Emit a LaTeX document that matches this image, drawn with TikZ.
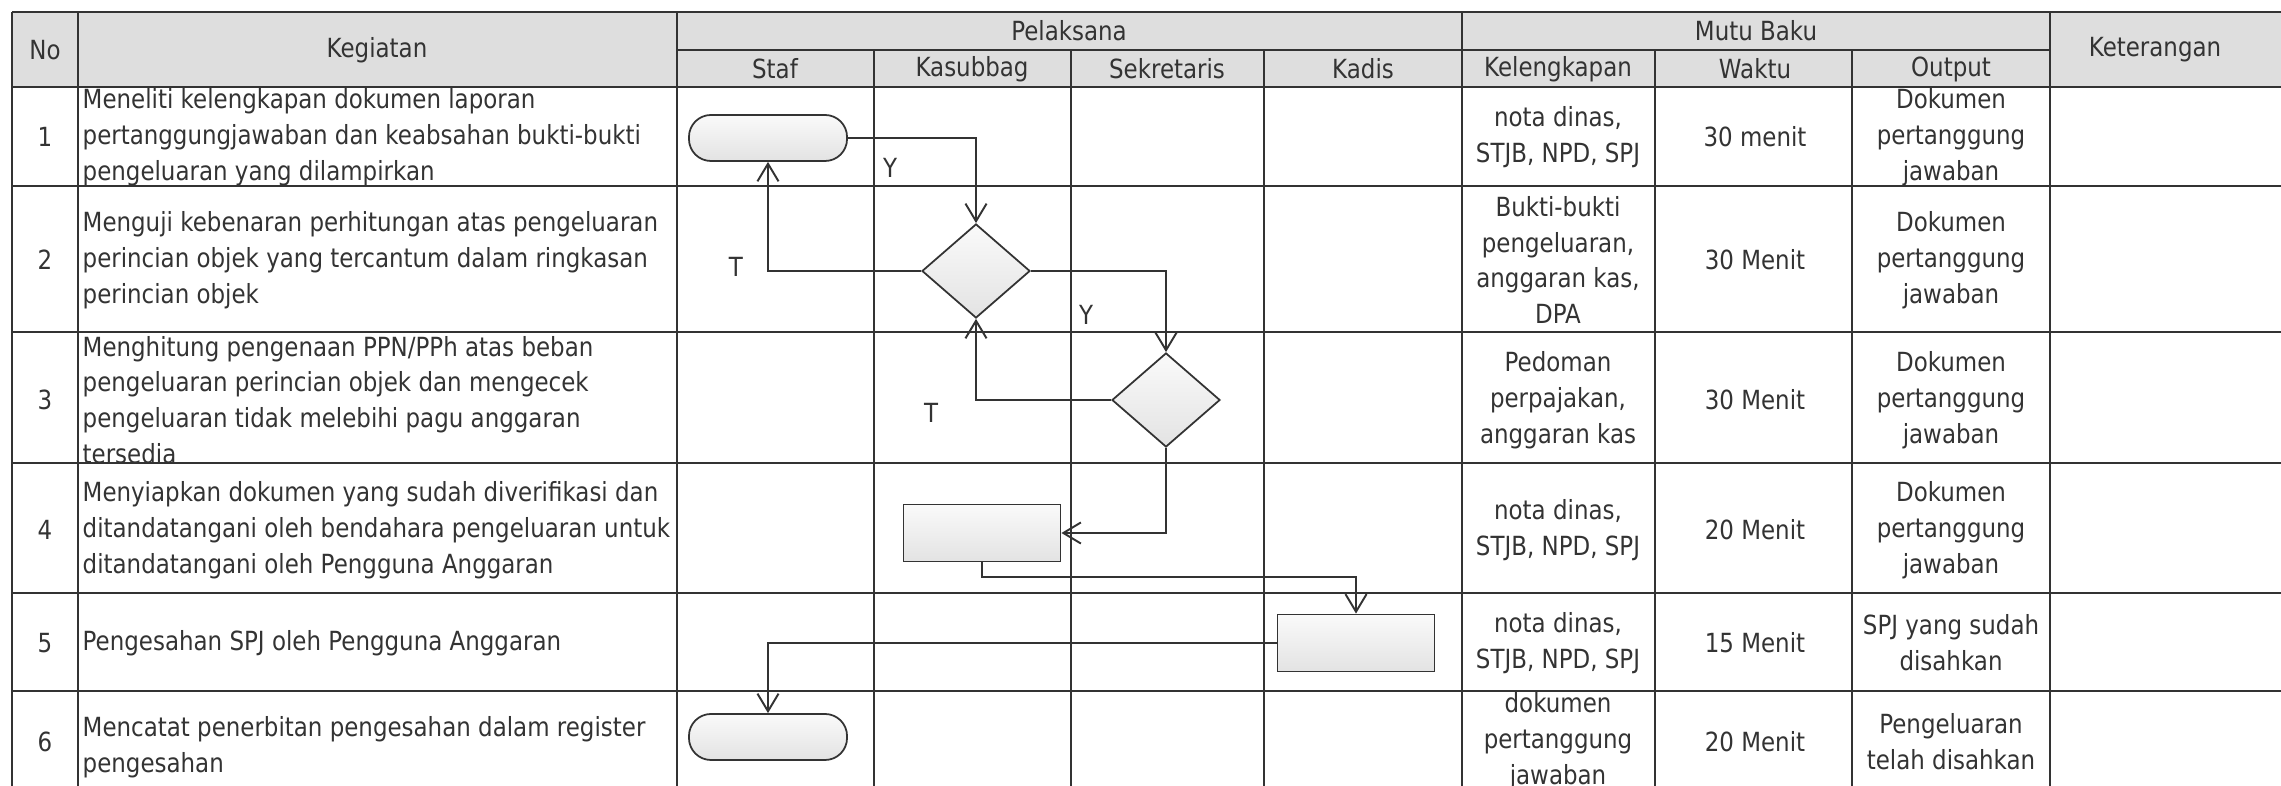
\documentclass[tikz,border=0pt]{standalone}
\usepackage{fontspec}
\setmainfont{DejaVu Sans}[FakeStretch=0.87]
\usetikzlibrary{shapes.geometric,arrows.meta}
\definecolor{ink}{HTML}{333333}
\definecolor{headgray}{HTML}{DEDEDE}

\begin{document}
\begin{tikzpicture}[
  x=0.01cm, y=-0.01cm,
  every node/.style={font=\fontsize{7.5}{10.2}\selectfont, text=ink, inner sep=0pt},
  cell/.style={align=center},
  task/.style={anchor=west, align=left},
  term/.style={draw=ink, line width=0.5pt, rounded corners=0.22cm, minimum width=1.58cm, minimum height=0.46cm, top color=gray!4, bottom color=gray!22},
  proc/.style={draw=ink, line width=0.5pt, minimum width=1.57cm, minimum height=0.57cm, top color=gray!4, bottom color=gray!22},
  dec/.style={draw=ink, line width=0.5pt, diamond, minimum width=1.08cm, minimum height=0.94cm, top color=gray!4, bottom color=gray!22},
  tabline/.style={draw=ink, line width=0.6pt},
  conn/.style={draw=ink, line width=0.55pt},
  >={Straight Barb[length=5pt,width=6pt]}
]
\useasboundingbox (0,0) rectangle (2281,786);
\fill[headgray] (12,12) rectangle (2281,87);

\draw[tabline] (12,12) -- (2281,12);
\draw[tabline] (677,50) -- (2050,50);
\draw[tabline] (12,87) -- (2281,87);
\draw[tabline] (12,186) -- (2281,186);
\draw[tabline] (12,332) -- (2281,332);
\draw[tabline] (12,463) -- (2281,463);
\draw[tabline] (12,593) -- (2281,593);
\draw[tabline] (12,691) -- (2281,691);
\draw[tabline] (12,12) -- (12,786);
\draw[tabline] (78,12) -- (78,786);
\draw[tabline] (677,12) -- (677,786);
\draw[tabline] (874,50) -- (874,786);
\draw[tabline] (1071,50) -- (1071,786);
\draw[tabline] (1264,50) -- (1264,786);
\draw[tabline] (1462,12) -- (1462,786);
\draw[tabline] (1655,50) -- (1655,786);
\draw[tabline] (1852,50) -- (1852,786);
\draw[tabline] (2050,12) -- (2050,786);

\node (hno)    at (45,50)   {No};
\node (hkeg)   at (377,50)  {Kegiatan};
\node (hpel)   at (1069,31) {Pelaksana};
\node (hstaf)  at (775,69)  {Staf};
\node (hkasub) at (972,69)  {Kasubbag};
\node (hsekr)  at (1167,69) {Sekretaris};
\node (hkadis) at (1363,69) {Kadis};
\node (hmutu)  at (1756,31) {Mutu Baku};
\node (hkel)   at (1558,69) {Kelengkapan};
\node (hwaktu) at (1755,69) {Waktu};
\node (hout)   at (1951,69) {Output};
\node (hket)   at (2155,50) {Keterangan};

\node (no1) at (45,137) {1};
\node[task] (keg1) at (82,137) {Meneliti kelengkapan dokumen laporan\\pertanggungjawaban dan keabsahan bukti-bukti\\pengeluaran yang dilampirkan};
\node[cell] (kel1) at (1558,137) {nota dinas,\\STJB, NPD, SPJ};
\node[cell] (wkt1) at (1755,137) {30 menit};
\node[cell] (out1) at (1951,137) {Dokumen\\pertanggung\\jawaban};

\node (no2) at (45,260) {2};
\node[task] (keg2) at (82,260) {Menguji kebenaran perhitungan atas pengeluaran\\perincian objek yang tercantum dalam ringkasan\\perincian objek};
\node[cell] (kel2) at (1558,260) {Bukti-bukti\\pengeluaran,\\anggaran kas,\\DPA};
\node[cell] (wkt2) at (1755,260) {30 Menit};
\node[cell] (out2) at (1951,260) {Dokumen\\pertanggung\\jawaban};

\node (no3) at (45,400) {3};
\node[task] (keg3) at (82,400) {Menghitung pengenaan PPN/PPh atas beban\\pengeluaran perincian objek dan mengecek\\pengeluaran tidak melebihi pagu anggaran\\tersedia};
\node[cell] (kel3) at (1558,400) {Pedoman\\perpajakan,\\anggaran kas};
\node[cell] (wkt3) at (1755,400) {30 Menit};
\node[cell] (out3) at (1951,400) {Dokumen\\pertanggung\\jawaban};

\node (no4) at (45,530) {4};
\node[task] (keg4) at (82,530) {Menyiapkan dokumen yang sudah diverifikasi dan\\ditandatangani oleh bendahara pengeluaran untuk\\ditandatangani oleh Pengguna Anggaran};
\node[cell] (kel4) at (1558,530) {nota dinas,\\STJB, NPD, SPJ};
\node[cell] (wkt4) at (1755,530) {20 Menit};
\node[cell] (out4) at (1951,530) {Dokumen\\pertanggung\\jawaban};

\node (no5) at (45,643) {5};
\node[task] (keg5) at (82,643) {Pengesahan SPJ oleh Pengguna Anggaran};
\node[cell] (kel5) at (1558,643) {nota dinas,\\STJB, NPD, SPJ};
\node[cell] (wkt5) at (1755,643) {15 Menit};
\node[cell] (out5) at (1951,643) {SPJ yang sudah\\disahkan};

\node (no6) at (45,742) {6};
\node[task] (keg6) at (82,747) {Mencatat penerbitan pengesahan dalam register\\pengesahan};
\node[cell] (kel6) at (1558,741) {dokumen\\pertanggung\\jawaban};
\node[cell] (wkt6) at (1755,742) {20 Menit};
\node[cell] (out6) at (1951,742) {Pengeluaran\\telah disahkan};

\node[term] (mulai)    at (768,138)  {};
\node[dec]  (cekkasub) at (976,271)  {};
\node[dec]  (ceksekr)  at (1166,400) {};
\node[proc] (siapkan)  at (982,533)  {};
\node[proc] (sahkan)   at (1356,643) {};
\node[term] (catat)    at (768,737)  {};

\draw[conn,->] (mulai) -| (cekkasub);
\draw[conn,->] (cekkasub) -| (mulai);
\draw[conn,->] (cekkasub) -| (ceksekr);
\draw[conn,->] (ceksekr) -| (cekkasub);
\draw[conn,->] (ceksekr) |- (siapkan);
\draw[conn,->] (siapkan.south) -- ++(0,15) -| (sahkan);
\draw[conn,->] (sahkan) -| (catat);

\node (ya1)    at (890,168)  {Y};
\node (tidak1) at (736,267)  {T};
\node (ya2)    at (1086,315) {Y};
\node (tidak2) at (931,413)  {T};
\end{tikzpicture}
\end{document}
